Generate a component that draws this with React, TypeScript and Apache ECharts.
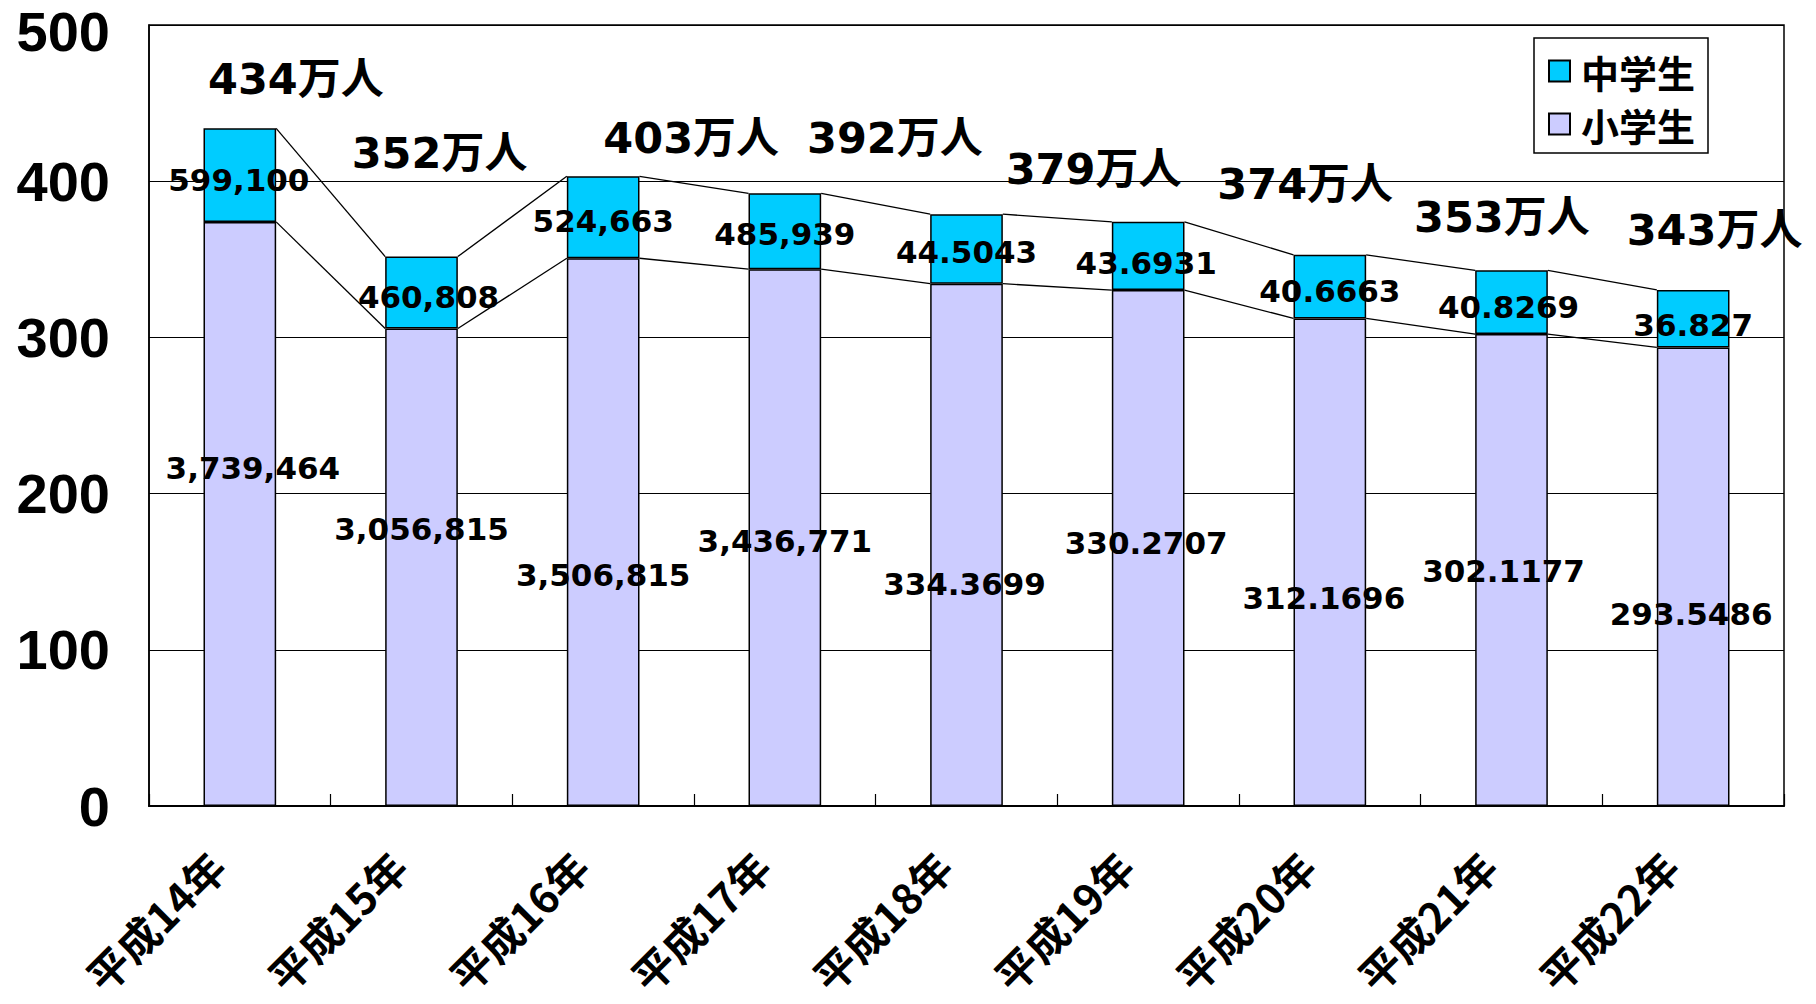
import React, { useEffect, useRef } from "react";
import * as echarts from "echarts";

const categories = ["平成14年", "平成15年", "平成16年", "平成17年", "平成18年", "平成19年", "平成20年", "平成21年", "平成22年"];
// 万人
const elementary = [373.9464, 305.6815, 350.6815, 343.6771, 334.3699, 330.2707, 312.1696, 302.1177, 293.5486];
const juniorHigh = [59.91, 46.0808, 52.4663, 48.5939, 44.5043, 43.6931, 40.6663, 40.8269, 36.827];
const elementaryLabels = ["3,739,464", "3,056,815", "3,506,815", "3,436,771", "334.3699", "330.2707", "312.1696", "302.1177", "293.5486"];
const juniorLabels = ["599,100", "460,808", "524,663", "485,939", "44.5043", "43.6931", "40.6663", "40.8269", "36.827"];
const totalLabels = ["434万人", "352万人", "403万人", "392万人", "379万人", "374万人", "353万人", "343万人"];
const yTicks = [0, 100, 200, 300, 400, 500];

// layout (pixel offsets of the hand-placed labels)
const elemLabelOffsets = [[13, -46], [0, -38], [0, 43], [0, 3], [-2, 39], [-2, -5], [-6, 36], [-8, 1], [-2, 37]];
const juniorLabelOffsets = [[-1, 5], [7, 4], [0, 4], [0, 3], [0, 3], [-2, 7], [0, 4], [-3, 5], [0, 6]];
const totalLabelOffsets = [[56, -49], [18, -104], [88, -38], [110, -55], [127, -45], [157, -38], [172, -38], [203, -40]];

const BAR_RATIO = 0.4;
const NUM_FONT = '"DejaVu Sans", "Noto Sans CJK JP", sans-serif';
const YFONT = '"Liberation Sans", Arial, sans-serif';

export default function App() {
  const ref = useRef<HTMLDivElement>(null);
  useEffect(() => {
    if (!ref.current) return;
    const chart = echarts.init(ref.current, null, { renderer: "svg" });
    const totals = elementary.map((v, i) => v + juniorHigh[i]);
    const n = categories.length;
    const yMax = yTicks[yTicks.length - 1];
    const option: any = {
      animation: false,
      backgroundColor: "#ffffff",
      grid: {
        left: 149, right: 32, top: 25, bottom: 198,
        outerBoundsMode: "none",
        show: true, borderColor: "#000", borderWidth: 1.5, backgroundColor: "transparent",
      },
      legend: {
        orient: "vertical",
        left: 1534, top: 38,
        data: ["中学生", "小学生"],
        borderColor: "#000", borderWidth: 1.5,
        padding: [14, 13, 10, 14],
        itemWidth: 21, itemHeight: 21, itemGap: 15,
        icon: "rect",
        textStyle: { fontSize: 38, fontWeight: "bold", color: "#000", fontFamily: '"Noto Sans CJK JP", sans-serif', padding: [0, 0, 0, 6] },
      },
      xAxis: {
        type: "category",
        data: categories,
        boundaryGap: true,
        axisLine: { lineStyle: { color: "#000", width: 2 } },
        axisTick: { show: true, inside: true, length: 12, lineStyle: { color: "#000", width: 1.2 } },
        axisLabel: {
          rotate: 45, margin: 29, interval: 0,
          fontSize: 42, fontWeight: "bold", color: "#000",
          fontFamily: '"Noto Sans CJK JP", sans-serif',
          padding: [0, 33, 0, 0],
        },
        splitLine: { show: false },
      },
      yAxis: {
        type: "value",
        min: yTicks[0], max: yMax, interval: 100,
        axisLine: { show: true, lineStyle: { color: "#000", width: 1.5 } },
        axisTick: { show: true, inside: true, length: 12, lineStyle: { color: "#000" } },
        axisLabel: {
          fontSize: 56, fontWeight: "bold", color: "#000", margin: 39, fontFamily: YFONT,
          formatter: (v: number) => (v === yMax ? "{t|" + v + "}" : String(v)),
          rich: { t: { fontSize: 56, fontWeight: "bold", color: "#000", fontFamily: YFONT, padding: [12, 0, 0, 0] } },
        },
        splitLine: { show: true, lineStyle: { color: "#000", width: 1.2 } },
      },
      series: [
        {
          name: "小学生",
          type: "bar",
          stack: "total",
          barWidth: BAR_RATIO * 100 + "%",
          itemStyle: { color: "#CCCCFF", borderColor: "#000", borderWidth: 1.5 },
          label: {
            show: true, position: "inside",
            fontSize: 31, fontWeight: "bold", color: "#000", fontFamily: NUM_FONT,
          },
          data: elementary.map((v, i) => ({
            value: v,
            label: { formatter: elementaryLabels[i], offset: elemLabelOffsets[i] },
          })),
          z: 2,
        },
        {
          name: "中学生",
          type: "bar",
          stack: "total",
          barWidth: BAR_RATIO * 100 + "%",
          itemStyle: { color: "#00CCFF", borderColor: "#000", borderWidth: 1.5 },
          label: {
            show: true, position: "inside",
            fontSize: 31, fontWeight: "bold", color: "#000", fontFamily: NUM_FONT,
          },
          data: juniorHigh.map((v, i) => ({
            value: v,
            label: { formatter: juniorLabels[i], offset: juniorLabelOffsets[i] },
          })),
          z: 2,
        },
        {
          name: "系列線",
          type: "custom",
          clip: false,
          z: 3,
          encode: { x: 0, y: 2 },
          data: categories.map((_, i) => [i, elementary[i], totals[i]]),
          renderItem: (params: any, api: any) => {
            const i = api.value(0);
            const bw = api.size([1, 0])[0] * BAR_RATIO;
            const children: any[] = [];
            if (i < n - 1) {
              const pairs = [
                [elementary[i], elementary[i + 1]],
                [totals[i], totals[i + 1]],
              ];
              pairs.forEach(([a, b]) => {
                const p1 = api.coord([i, a]);
                const p2 = api.coord([i + 1, b]);
                children.push({
                  type: "line",
                  shape: { x1: p1[0] + bw / 2, y1: p1[1], x2: p2[0] - bw / 2, y2: p2[1] },
                  style: { stroke: "#000", lineWidth: 1.3 },
                });
              });
            }
            if (i < totalLabels.length) {
              const t = api.coord([i, totals[i]]);
              const off = totalLabelOffsets[i];
              children.push({
                type: "text",
                x: t[0] + off[0],
                y: t[1] + off[1],
                style: {
                  text: totalLabels[i],
                  fill: "#000",
                  font: 'bold 43px "DejaVu Sans", "Noto Sans CJK JP", sans-serif',
                  align: "center",
                  verticalAlign: "middle",
                },
              });
            }
            return { type: "group", children };
          },
        },
      ],
    };
    chart.setOption(option);
    return () => chart.dispose();
  }, []);
  return <div ref={ref} style={{ position: "fixed", left: 0, top: 0, width: 1816, height: 1004, background: "#fff" }} />;
}
